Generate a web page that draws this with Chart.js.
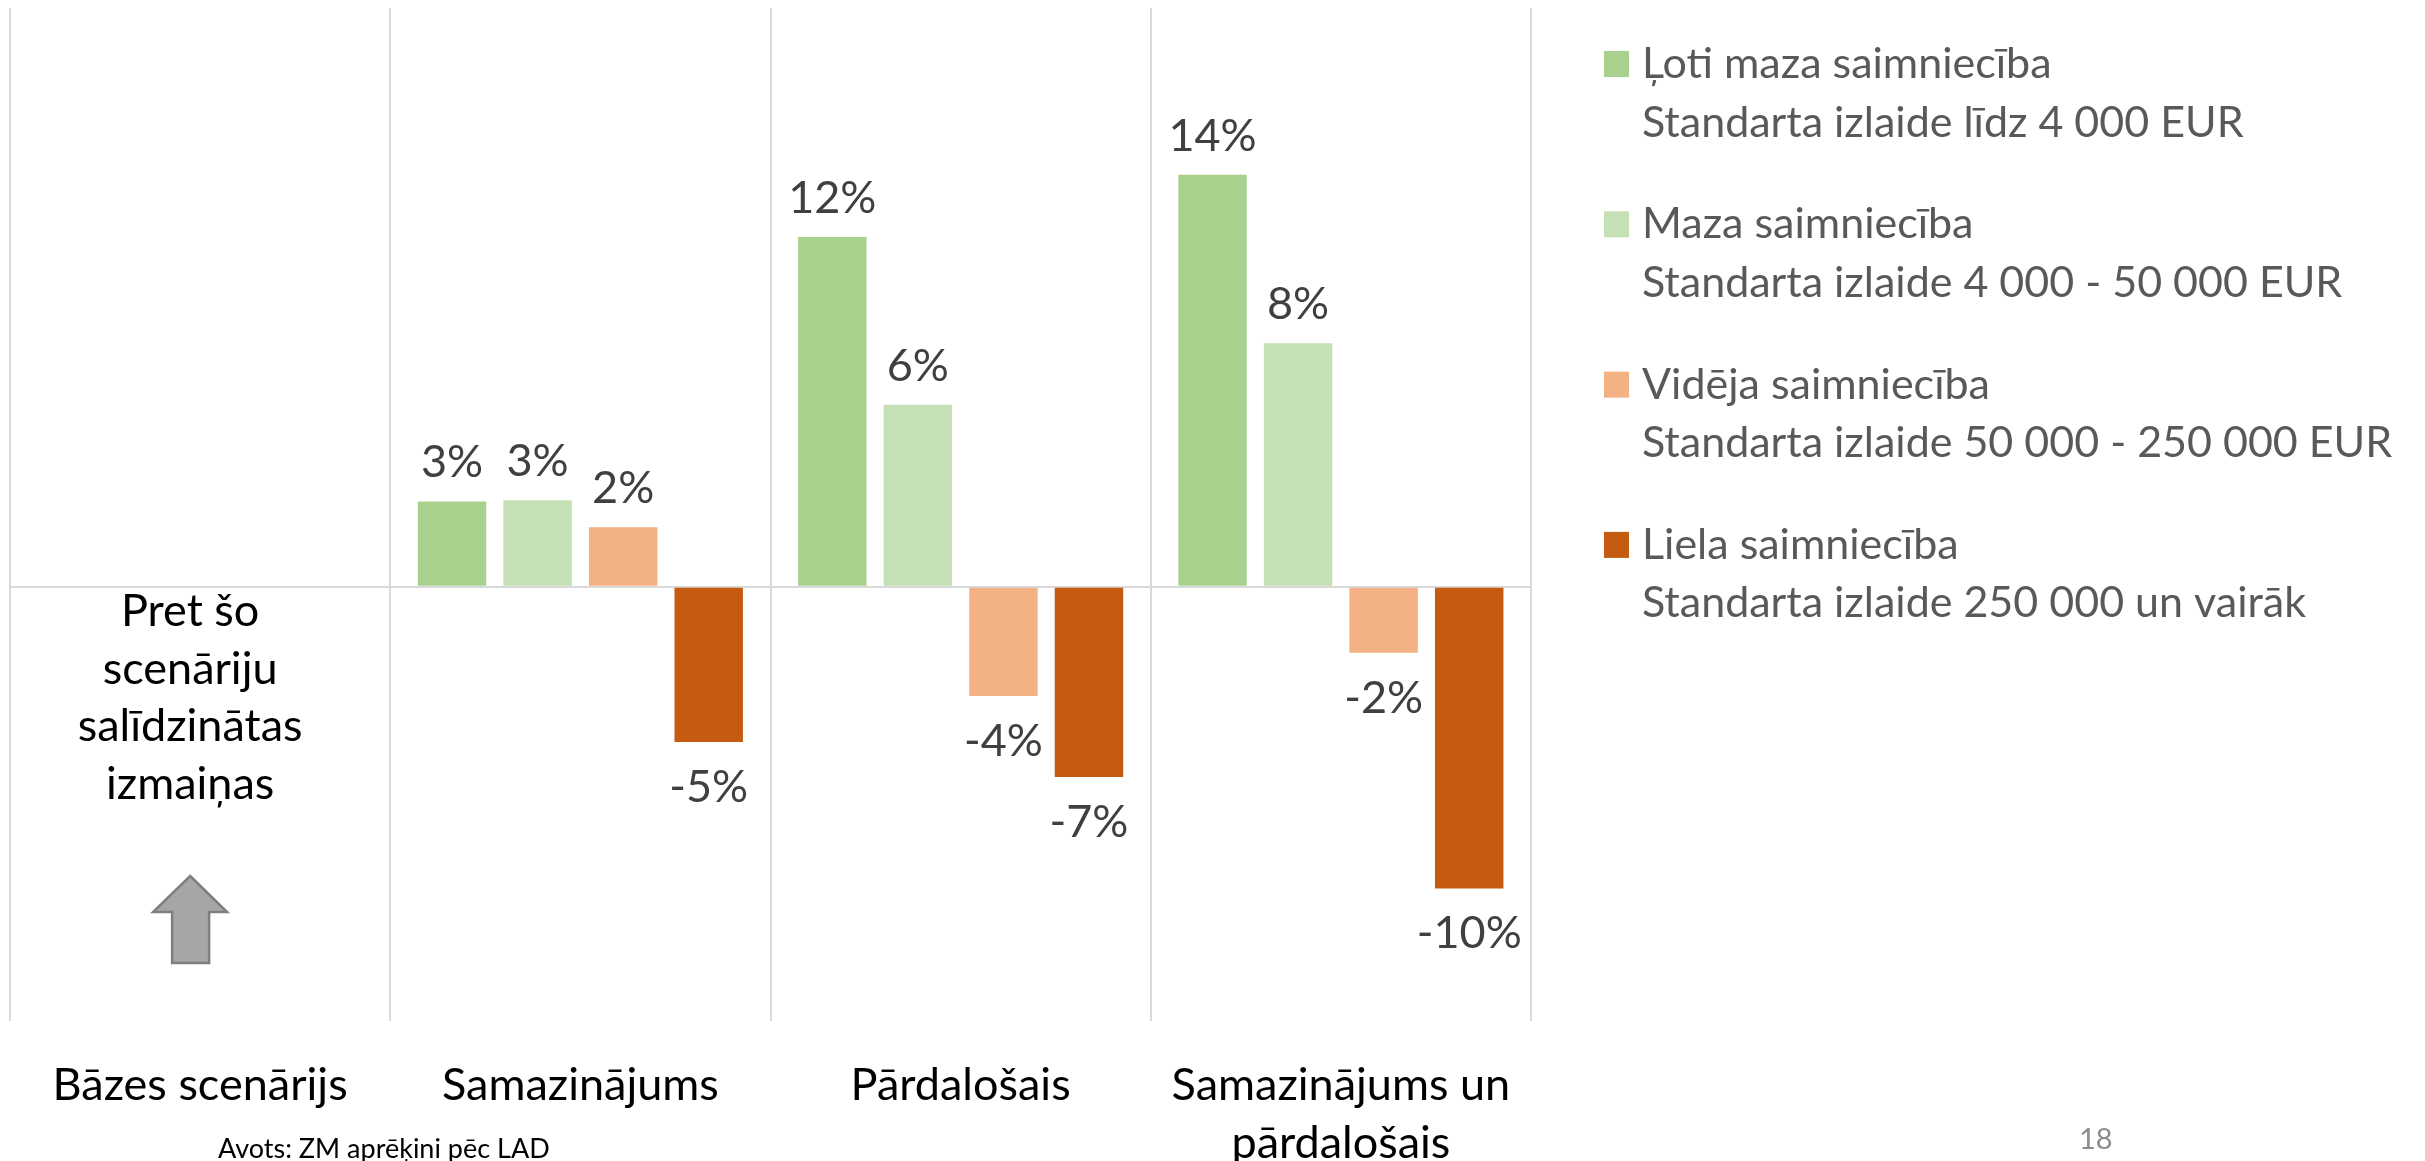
<!DOCTYPE html>
<html>
<head>
<meta charset="utf-8">
<script src="https://cdn.jsdelivr.net/npm/chart.js@4"></script>
<style>
  html, body { margin: 0; padding: 0; background: #fff; overflow: hidden; }
  #wrap { position: relative; width: 2425px; height: 1208px; }
</style>
</head>
<body>
<div id="wrap"><canvas id="chart"></canvas></div>
<script>
const FONT = "Lato, 'Open Sans', sans-serif";

// categories (x axis)
const categories = ["Bāzes scenārijs", "Samazinājums", "Pārdalošais", ["Samazinājums un", "pārdalošais"]];

// series
const seriesNames = ["Ļoti maza saimniecība", "Maza saimniecība", "Vidēja saimniecība", "Liela saimniecība"];
const seriesNotes = [
  "Standarta izlaide līdz 4 000 EUR",
  "Standarta izlaide 4 000 - 50 000 EUR",
  "Standarta izlaide 50 000 - 250 000 EUR",
  "Standarta izlaide 250 000 un vairāk"
];
const seriesColors = ["#A9D18E", "#C5E0B4", "#F4B183", "#C55A11"];

// values in %, the base scenario has no bars
const verySmallFarm = [null, 2.95, 12.09, 14.24];
const smallFarm = [null, 2.99, 6.29, 8.42];
const mediumFarm = [null, 2.06, -3.77, -2.28];
const largeFarm = [null, -5.36, -6.57, -10.42];

// axis range
const yMin = -15;
const yMax = 20;

const baseNote = ["Pret šo", "scenāriju", "salīdzinātas", "izmaiņas"];
const sourceNote = "Avots: ZM aprēķini pēc LAD";
const pageNo = "18";

const barLabels = {
  id: "barLabels",
  afterDatasetsDraw(chart) {
    const ctx = chart.ctx;
    ctx.save();
    ctx.font = "45px " + FONT;
    ctx.fillStyle = "#404040";
    ctx.textAlign = "center";
    ctx.textBaseline = "alphabetic";
    chart.data.datasets.forEach((ds, i) => {
      const meta = chart.getDatasetMeta(i);
      meta.data.forEach((bar, j) => {
        const v = ds.data[j];
        if (v === null) return;
        const txt = Math.round(v) + "%";
        if (v >= 0) {
          ctx.fillText(txt, bar.x, bar.y - 24);
        } else {
          ctx.fillText(txt, bar.x, bar.y + 60);
        }
      });
    });
    ctx.restore();
  }
};

const extras = {
  id: "extras",
  afterDraw(chart) {
    const ctx = chart.ctx;
    ctx.save();

    // legend on the right
    ctx.font = "43px " + FONT;
    ctx.textAlign = "left";
    ctx.textBaseline = "alphabetic";
    chart.data.datasets.forEach((ds, i) => {
      const y = 78 + i * 160.3;
      ctx.fillStyle = ds.backgroundColor;
      ctx.fillRect(1604, y - 27, 25, 26);
      ctx.fillStyle = "#595959";
      ctx.fillText(ds.label, 1642, y);
      ctx.fillText(seriesNotes[i], 1642, y + 58.5);
    });

    // note in the base scenario column
    const cx = chart.scales.x.getPixelForValue(0) - 10;
    ctx.font = "45px " + FONT;
    ctx.fillStyle = "#000";
    ctx.textAlign = "center";
    baseNote.forEach((line, k) => {
      ctx.fillText(line, cx, 626 + k * 57.5);
    });

    // grey arrow
    ctx.beginPath();
    ctx.moveTo(cx, 876);
    ctx.lineTo(cx + 37, 912);
    ctx.lineTo(cx + 19, 912);
    ctx.lineTo(cx + 19, 963);
    ctx.lineTo(cx - 18, 963);
    ctx.lineTo(cx - 18, 912);
    ctx.lineTo(cx - 37, 912);
    ctx.closePath();
    ctx.fillStyle = "#A6A6A6";
    ctx.fill();
    ctx.lineWidth = 2.5;
    ctx.strokeStyle = "#7F7F7F";
    ctx.stroke();

    // source and page number
    ctx.textAlign = "left";
    ctx.font = "27px " + FONT;
    ctx.fillStyle = "#000";
    ctx.fillText(sourceNote, 218, 1158);
    ctx.font = "29px " + FONT;
    ctx.fillStyle = "#8C8C8C";
    ctx.fillText(pageNo, 2079, 1149);

    ctx.restore();
  }
};

const seriesData = [verySmallFarm, smallFarm, mediumFarm, largeFarm];

document.fonts.load("45px Lato").then(() => {
  new Chart(document.getElementById("chart"), {
    type: "bar",
    data: {
      labels: categories,
      datasets: seriesData.map((d, i) => ({
        label: seriesNames[i],
        data: d,
        backgroundColor: seriesColors[i],
        categoryPercentage: 0.9,
        barPercentage: 0.8
      }))
    },
    options: {
      responsive: true,
      maintainAspectRatio: false,
      animation: false,
      layout: { padding: { left: 10, top: 8, right: 894, bottom: 0 } },
      plugins: {
        legend: { display: false },
        tooltip: { enabled: false }
      },
      scales: {
        x: {
          grid: { offset: true, color: "#D9D9D9", lineWidth: 2, drawTicks: false },
          border: { display: false },
          ticks: {
            color: "#000",
            font: { family: FONT, size: 45, lineHeight: 1.278 },
            padding: 36,
            maxRotation: 0,
            autoSkip: false
          }
        },
        y: {
          min: yMin,
          max: yMax,
          grid: {
            drawTicks: false,
            lineWidth: 2,
            color: (c) => (c.tick && c.tick.value === 0 ? "#D9D9D9" : "rgba(0,0,0,0)")
          },
          border: { display: false },
          ticks: { display: false, stepSize: 5 }
        }
      }
    },
    plugins: [barLabels, extras]
  });
});
</script>
</body>
</html>
